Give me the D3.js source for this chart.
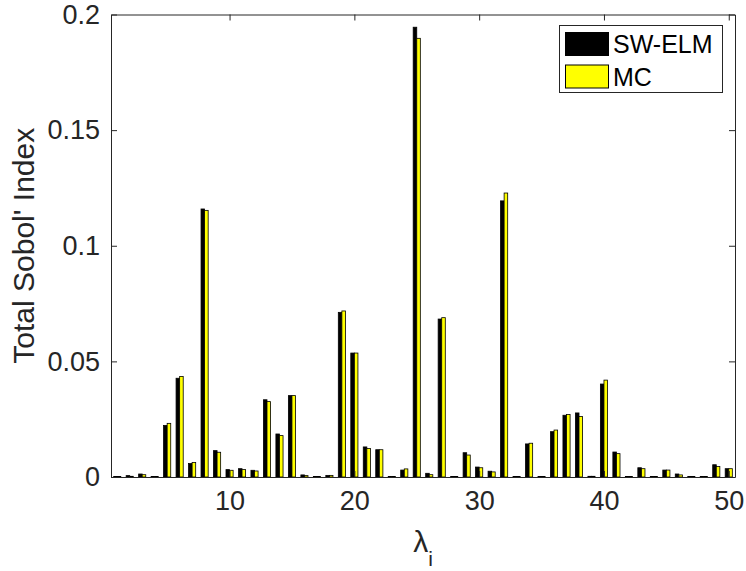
<!DOCTYPE html>
<html>
<head>
<meta charset="utf-8">
<script src="https://cdn.jsdelivr.net/npm/d3@7"></script>
<style>
  body { margin: 0; background: #fff; }
  svg { display: block; font-family: "Liberation Sans", Arial, Helvetica, sans-serif; }
</style>
</head>
<body>
<svg id="chart" width="746" height="571"></svg>
<script>
const categories = d3.range(1, 51);
const swElm = [0.0002, 0.0006, 0.0013, 0.0002, 0.0223, 0.0427, 0.0058, 0.1159, 0.0114, 0.0032,
               0.0036, 0.0029, 0.0334, 0.0186, 0.0352, 0.0009, 0.0002, 0.0007, 0.0712, 0.0536,
               0.0130, 0.0118, 0.0002, 0.0030, 0.1945, 0.0016, 0.0683, 0.0002, 0.0105, 0.0043,
               0.0025, 0.1194, 0.0002, 0.0143, 0.0002, 0.0196, 0.0267, 0.0277, 0.0003, 0.0402,
               0.0108, 0.0002, 0.0040, 0.0002, 0.0030, 0.0013, 0.0002, 0.0002, 0.0053, 0.0036];
const mc =    [0.0002, 0.0003, 0.0010, 0.0002, 0.0232, 0.0435, 0.0063, 0.1153, 0.0107, 0.0029,
               0.0032, 0.0026, 0.0326, 0.0179, 0.0352, 0.0006, 0.0002, 0.0007, 0.0718, 0.0536,
               0.0123, 0.0118, 0.0002, 0.0035, 0.1897, 0.0010, 0.0689, 0.0002, 0.0095, 0.0040,
               0.0022, 0.1228, 0.0002, 0.0146, 0.0002, 0.0203, 0.0270, 0.0262, 0.0003, 0.0419,
               0.0101, 0.0002, 0.0036, 0.0002, 0.0030, 0.0009, 0.0002, 0.0002, 0.0045, 0.0036];
const xTicks = [10, 20, 30, 40, 50];
const yTicks = [0, 0.05, 0.1, 0.15, 0.2];
const seriesNames = ["SW-ELM", "MC"];
const seriesColors = ["#000000", "#ffff00"];

const svg = d3.select("#chart");
const L = 111, R = 735, T = 14.5, B = 477;
const axisColor = "#262626";

const x = d3.scaleLinear().domain([0.5, 50.5]).range([L, R]);
const y = d3.scaleLinear().domain([0, 0.2]).range([B, T]);

const barW = 0.286;
const series = [swElm, mc];

// bars
series.forEach((vals, si) => {
  svg.append("g").selectAll("rect").data(categories).join("rect")
    .attr("x", (d) => x(si === 0 ? d - barW : d))
    .attr("width", x(barW) - x(0))
    .attr("y", (d, i) => y(vals[i]))
    .attr("height", (d, i) => y(0) - y(vals[i]))
    .attr("fill", seriesColors[si])
    .attr("stroke", "#000")
    .attr("stroke-width", 0.8);
});

// axes
const tickLen = 6;
const gx = svg.append("g").attr("transform", `translate(0,${B})`)
  .call(d3.axisBottom(x).tickValues(xTicks).tickSizeInner(-tickLen).tickSizeOuter(0).tickPadding(14));
const gy = svg.append("g").attr("transform", `translate(${L},0)`)
  .call(d3.axisLeft(y).tickValues(yTicks).tickFormat(d => d === 0 ? "0" : String(+d.toFixed(2))).tickSizeInner(-tickLen).tickSizeOuter(0).tickPadding(11));
const gxt = svg.append("g").attr("transform", `translate(0,${T})`)
  .call(d3.axisTop(x).tickValues(xTicks).tickSizeInner(-tickLen).tickSizeOuter(0).tickFormat(""));
const gyr = svg.append("g").attr("transform", `translate(${R},0)`)
  .call(d3.axisRight(y).tickValues(yTicks).tickSizeInner(-tickLen).tickSizeOuter(0).tickFormat(""));

[gx, gy, gxt, gyr].forEach(g => {
  g.select(".domain").attr("stroke", axisColor).attr("stroke-width", 1);
  g.selectAll(".tick line").attr("stroke", axisColor);
  g.selectAll(".tick text").attr("fill", axisColor).style("font-size", "27px")
    .style("font-family", "'Liberation Sans', Arial, sans-serif");
});
gx.selectAll(".tick text").attr("dy", "0.71em");

// y label
svg.append("text")
  .attr("transform", `translate(34,${(T + B) / 2}) rotate(-90)`)
  .attr("text-anchor", "middle")
  .attr("fill", axisColor)
  .style("font-size", "30px")
  .text("Total Sobol' Index");

// x label
const xl = svg.append("text")
  .attr("x", (L + R) / 2)
  .attr("y", 552)
  .attr("text-anchor", "middle")
  .attr("fill", axisColor)
  .style("font-size", "30px");
xl.append("tspan").text("λ");
xl.append("tspan").attr("dy", 14).style("font-size", "21px").text("i");

// legend
const lg = svg.append("g");
lg.append("rect").attr("x", 559.5).attr("y", 25.5).attr("width", 163).attr("height", 67)
  .attr("fill", "#fff").attr("stroke", axisColor).attr("stroke-width", 1);
seriesNames.forEach((name, i) => {
  const yy = 32.5 + i * 32.5;
  lg.append("rect").attr("x", 565.5).attr("y", yy).attr("width", 43).attr("height", 23)
    .attr("fill", seriesColors[i]).attr("stroke", "#000").attr("stroke-width", 1);
  lg.append("text").attr("x", 613).attr("y", yy + 20.5)
    .attr("fill", "#000").style("font-size", "25px").text(name);
});
</script>
</body>
</html>
